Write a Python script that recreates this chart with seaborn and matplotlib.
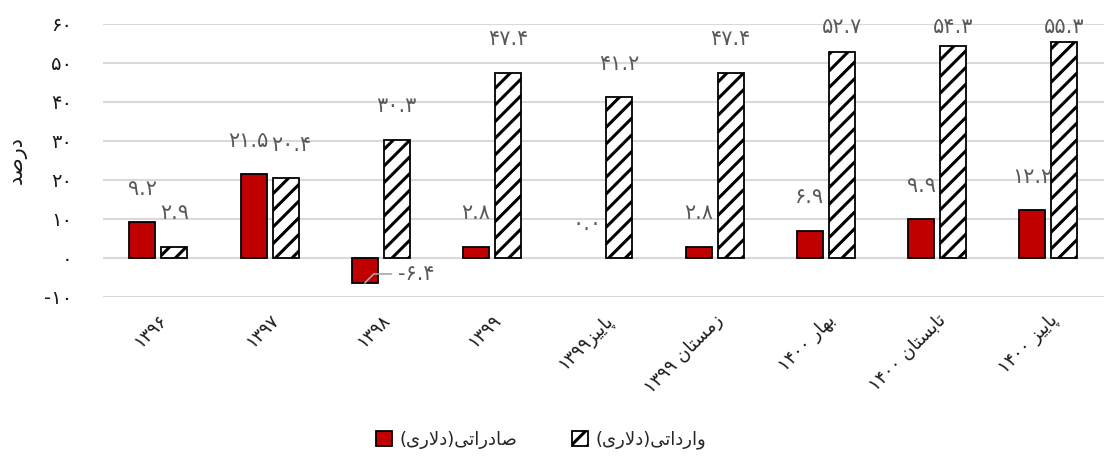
import pandas as pd
import matplotlib
matplotlib.use('Agg')
import matplotlib.pyplot as plt
import seaborn as sns

# داده‌های نمودار
categories = ['۱۳۹۶', '۱۳۹۷', '۱۳۹۸', '۱۳۹۹', 'پاییز۱۳۹۹', 'زمستان ۱۳۹۹',
              'بهار ۱۴۰۰', 'تابستان ۱۴۰۰', 'پاییز ۱۴۰۰']
exports = [9.2, 21.5, -6.4, 2.8, 0.0, 2.8, 6.9, 9.9, 12.2]
imports = [2.9, 20.4, 30.3, 47.4, 41.2, 47.4, 52.7, 54.3, 55.3]
series_names = ['صادراتی(دلاری)', 'وارداتی(دلاری)']
y_label = 'درصد'
y_ticks = [-10, 0, 10, 20, 30, 40, 50, 60]

# matplotlib حروف فارسی را به هم نمی‌چسباند، پس شکل‌های ارائه را خودمان می‌سازیم
FORMS = {
    'ا': ('\uFE8D', '\uFE8E', None, None),
    'ب': ('\uFE8F', '\uFE90', '\uFE91', '\uFE92'),
    'پ': ('\uFB56', '\uFB57', '\uFB58', '\uFB59'),
    'ت': ('\uFE95', '\uFE96', '\uFE97', '\uFE98'),
    'د': ('\uFEA9', '\uFEAA', None, None),
    'ر': ('\uFEAD', '\uFEAE', None, None),
    'ز': ('\uFEAF', '\uFEB0', None, None),
    'س': ('\uFEB1', '\uFEB2', '\uFEB3', '\uFEB4'),
    'ص': ('\uFEB9', '\uFEBA', '\uFEBB', '\uFEBC'),
    'ل': ('\uFEDD', '\uFEDE', '\uFEDF', '\uFEE0'),
    'م': ('\uFEE1', '\uFEE2', '\uFEE3', '\uFEE4'),
    'ن': ('\uFEE5', '\uFEE6', '\uFEE7', '\uFEE8'),
    'ه': ('\uFEE9', '\uFEEA', '\uFEEB', '\uFEEC'),
    'و': ('\uFEED', '\uFEEE', None, None),
    '\u06CC': ('\uFBFC', '\uFBFD', '\uFBFE', '\uFBFF'),
}
NUM_CHARS = set('۰۱۲۳۴۵۶۷۸۹0123456789.')
MIRROR = {'(': ')', ')': '('}
FA_DIGITS = str.maketrans('0123456789', '۰۱۲۳۴۵۶۷۸۹')


def shape(text):
    text = text.replace('\u064A', '\u06CC')
    out = []
    i = 0
    n = len(text)
    while i < n:
        c = text[i]
        if c not in FORMS:
            out.append(c)
            i += 1
            continue
        prev = text[i - 1] if i > 0 else ''
        joins_prev = prev in FORMS and FORMS[prev][2] is not None
        if c == 'ل' and i + 1 < n and text[i + 1] == 'ا':
            out.append('\uFEFC' if joins_prev else '\uFEFB')
            i += 2
            continue
        nxt = text[i + 1] if i + 1 < n else ''
        joins_next = FORMS[c][2] is not None and nxt in FORMS
        iso, fin, ini, med = FORMS[c]
        if joins_prev and joins_next:
            out.append(med)
        elif joins_prev:
            out.append(fin)
        elif joins_next:
            out.append(ini)
        else:
            out.append(iso)
        i += 1
    return ''.join(out)


def fa(text):
    # چیدمان راست به چپ ساده: اعداد چپ به راست می‌مانند
    s = shape(text)
    runs = []
    for ch in s:
        is_num = ch in NUM_CHARS
        if runs and runs[-1][0] == is_num:
            runs[-1][1].append(ch)
        else:
            runs.append((is_num, [ch]))
    parts = []
    for is_num, chars in reversed(runs):
        if is_num:
            parts.append(''.join(chars))
        else:
            parts.append(''.join(MIRROR.get(c, c) for c in reversed(chars)))
    return ''.join(parts)


def fa_num(v, fmt='{:.1f}'):
    return fmt.format(v).translate(FA_DIGITS)


sns.set_style('white')
plt.rcParams['font.family'] = ['DejaVu Sans']
plt.rcParams['hatch.linewidth'] = 2.2

df = pd.DataFrame({
    'دوره': categories * 2,
    'سری': [series_names[0]] * len(exports) + [series_names[1]] * len(imports),
    'مقدار': exports + imports,
})

fig = plt.figure(figsize=(11.04, 4.59), dpi=100)
ax = fig.add_axes([0.093, 0.353, 0.907, 0.595])

sns.barplot(data=df, x='دوره', y='مقدار', hue='سری', palette=['#C00000', 'white'],
            saturation=1, width=0.576, gap=0.19, edgecolor='black', linewidth=1.3,
            errorbar=None, legend=False, ax=ax)

for patch in ax.containers[1]:
    patch.set_hatch('//')

# برچسب مقادیر (جایگاه عمودی بالای میله، محدود به بالای ناحیه نمودار)
label_y = [[min(v + 8.6, 59.2) for v in vals] for vals in (exports, imports)]
for k, (container, vals) in enumerate(zip(ax.containers, [exports, imports])):
    for j, (patch, v) in enumerate(zip(container, vals)):
        xc = patch.get_x() + patch.get_width() / 2
        if v == 0:
            patch.set_visible(False)
        if v < 0:
            ax.annotate(fa_num(v), xy=(xc, v), xytext=(xc + 0.46, v + 2.3),
                        ha='center', va='center', fontsize=15, color='#595959',
                        arrowprops=dict(arrowstyle='-', color='#a6a6a6', lw=1.2,
                                        connectionstyle='angle,angleA=0,angleB=45',
                                        shrinkA=2, shrinkB=0))
        else:
            # اگر دو برچسب یک دسته هم‌ارتفاع باشند، کمی از هم فاصله بگیرند
            if abs(label_y[0][j] - label_y[1][j]) < 2.5:
                xc += -0.05 if k == 0 else 0.05
            ax.text(xc, label_y[k][j], fa_num(v), ha='center', va='center',
                    fontsize=15, color='#595959')

ax.set_ylim(-10, 60)
ax.set_xlim(-0.5, len(categories) - 0.5)
ax.set_yticks(y_ticks)
ax.set_yticklabels([fa_num(t, '{:d}') for t in y_ticks], fontsize=14)
ax.set_xticks(range(len(categories)))
ax.set_xticklabels([fa(c) for c in categories], rotation=45, ha='right',
                   rotation_mode='anchor', fontsize=13)
ax.tick_params(axis='y', length=0, pad=22, colors='#1a1a1a')
ax.tick_params(axis='x', length=0, pad=10, colors='#1a1a1a')
ax.grid(axis='y', color='#d9d9d9', linewidth=1.5)
ax.set_axisbelow(True)
for s in ax.spines.values():
    s.set_visible(False)

ax.set_xlabel('')
ax.set_ylabel(fa(y_label), fontsize=15, labelpad=12, color='#1a1a1a')

handles = [ax.containers[0][0], ax.containers[1][0]]
fig.legend(handles, [fa(n) for n in series_names], loc='center',
           bbox_to_anchor=(0.49, 0.041), ncol=2, frameon=False, fontsize=13,
           handlelength=0.9, handleheight=0.9, handletextpad=0.4, columnspacing=3)

fig.savefig('out.png', dpi=100)
